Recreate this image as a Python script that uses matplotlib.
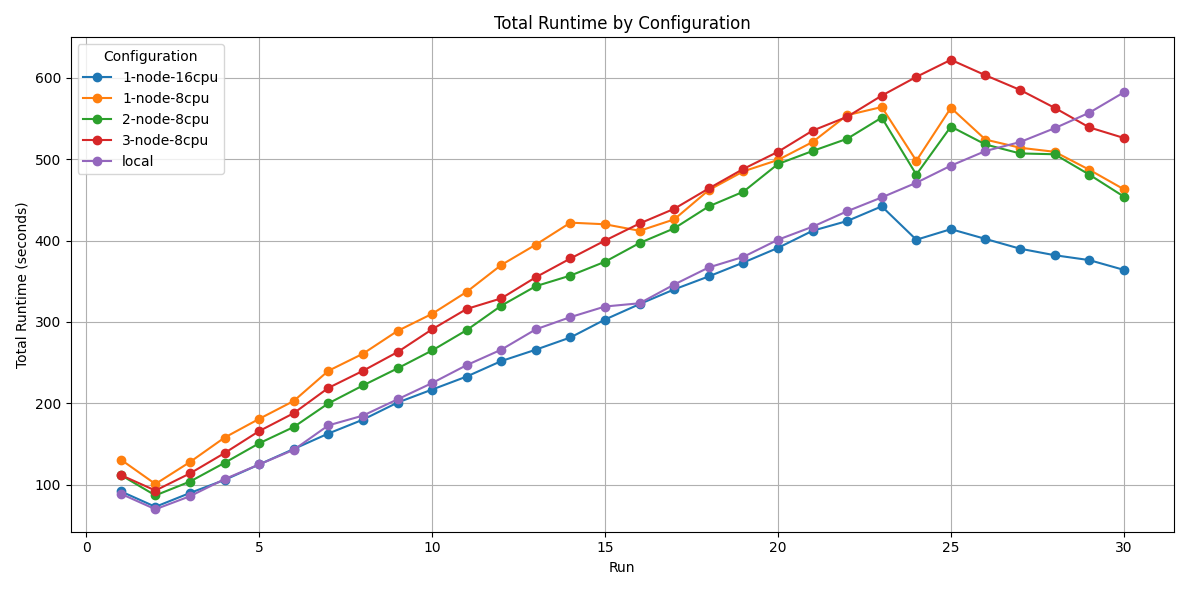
import matplotlib
matplotlib.use("Agg")
import matplotlib.pyplot as plt

runs = list(range(1, 31))
node1_16 = [92, 73, 90, 106, 125, 144, 163, 180, 201, 217, 233, 252, 266, 281, 303, 322, 340, 356, 373, 391, 412, 424, 442, 401, 414, 402, 390, 382, 376, 364]
node1_8 = [131, 101, 128, 158, 181, 203, 240, 261, 289, 310, 337, 370, 395, 422, 420, 412, 426, 462, 485, 499, 521, 554, 564, 498, 563, 524, 514, 509, 487, 463]
node2_8 = [112, 87, 104, 127, 151, 171, 200, 222, 243, 265, 290, 320, 344, 357, 374, 397, 415, 442, 460, 494, 510, 525, 551, 481, 540, 518, 507, 506, 481, 454]
node3_8 = [112, 93, 114, 139, 166, 188, 219, 240, 263, 291, 316, 329, 355, 378, 400, 421, 439, 464, 488, 509, 535, 552, 578, 601, 622, 603, 585, 563, 539, 526]
local = [89, 70, 86, 107, 125, 143, 173, 185, 205, 225, 247, 266, 291, 306, 319, 323, 346, 367, 380, 401, 417, 436, 453, 471, 492, 510, 521, 538, 557, 582]

series = {
    "1-node-16cpu": node1_16,
    "1-node-8cpu": node1_8,
    "2-node-8cpu": node2_8,
    "3-node-8cpu": node3_8,
    "local": local,
}

fig, ax = plt.subplots(figsize=(11.89, 5.9), dpi=100)
for name, vals in series.items():
    ax.plot(runs, vals, marker="o", label=name)

ax.set_title("Total Runtime by Configuration")
ax.set_xlabel("Run")
ax.set_ylabel("Total Runtime (seconds)")
ax.grid(True)
ax.legend(title="Configuration", loc="upper left")
plt.tight_layout()
plt.savefig("out.png")
